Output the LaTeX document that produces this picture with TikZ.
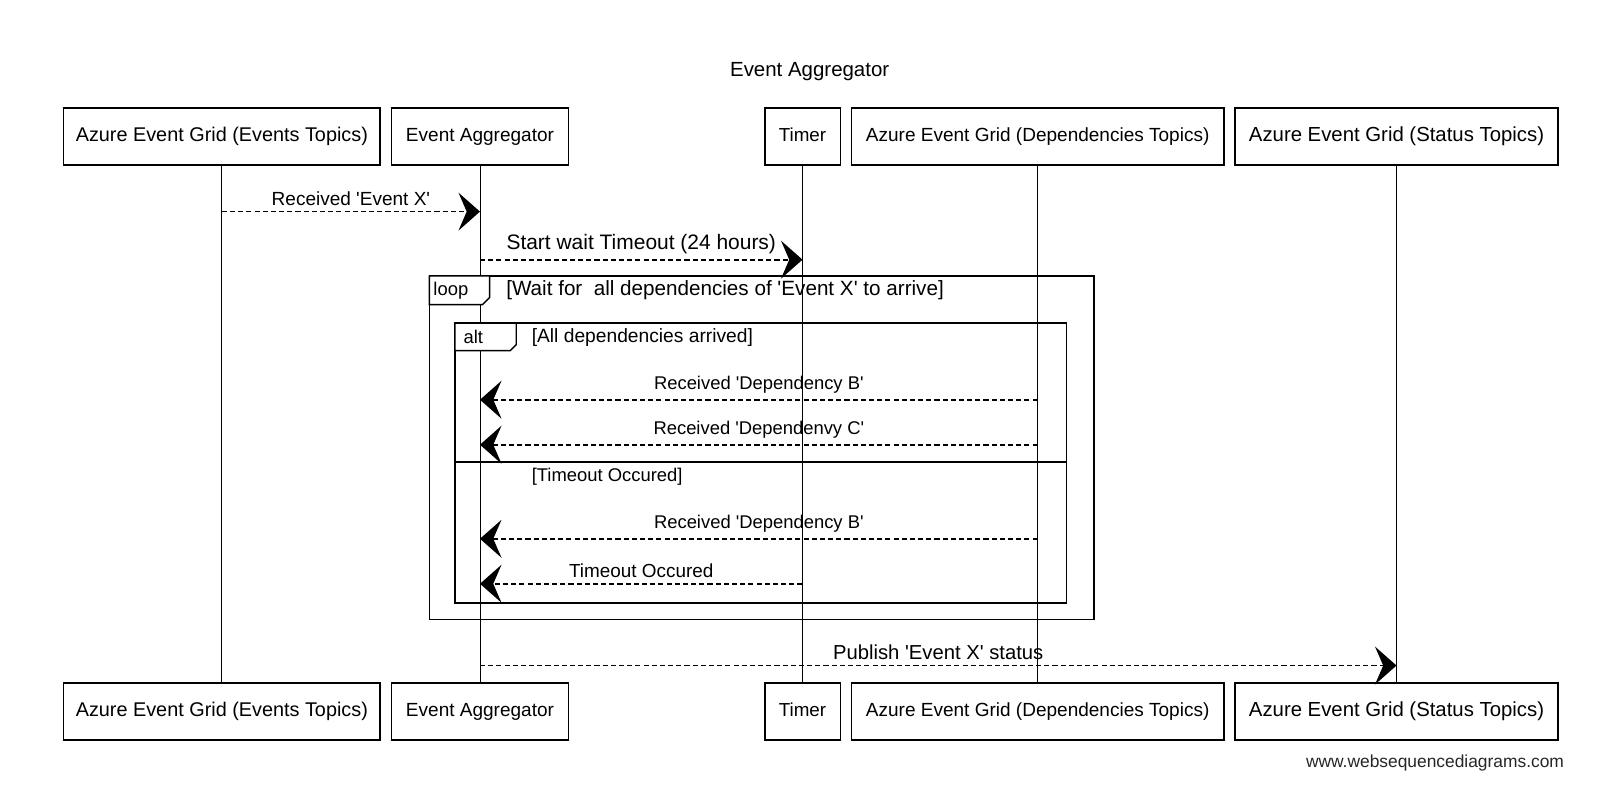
\documentclass[tikz,border=0pt]{standalone}
\usepackage{fontspec}
\setmainfont{Liberation Sans}
\usetikzlibrary{arrows.meta}
\newcommand{\apos}{\textquotesingle}
\begin{document}
\begin{tikzpicture}[x=1pt,y=-1pt,
  fs/.style={font=\fontsize{#1}{#1}\selectfont},
  part/.style={draw, line width=1.6pt, minimum height=56pt, inner sep=0pt, text height=13pt, text depth=4pt},
  life/.style={line width=0.8pt},
  msg/.style={line width=1.7pt, dash pattern=on 5pt off 3pt, -{Stealth[length=21pt, width=37pt, inset=8pt]}},
  lab/.style={inner sep=2pt, above=3pt},
  frame/.style={line width=1.4pt},
  cond/.style={inner sep=0pt, anchor=west}
]
\useasboundingbox (0,0) rectangle (1568,787);
\fill[white] (0,0) rectangle (1568,787);

% title
\node[fs=20] (title) at (792,70) {Event Aggregator};

% participants top
\node[part, fs=19.4, minimum width=310pt] (t1) at (217,133.5) {Azure Event Grid (Events Topics)};
\node[part, fs=18.6, minimum width=173pt] (t2) at (469.5,133.5) {Event Aggregator};
\node[part, fs=18.4, minimum width=74pt]  (t3) at (785,133.5) {Timer};
\node[part, fs=18.6, minimum width=364pt] (t4) at (1015,133.5) {Azure Event Grid (Dependencies Topics)};
\node[part, fs=19.9, minimum width=316pt] (t5) at (1366,133.5) {Azure Event Grid (Status Topics)};

% participants bottom
\node[part, fs=19.4, minimum width=310pt] (b1) at (217,696) {Azure Event Grid (Events Topics)};
\node[part, fs=18.6, minimum width=173pt] (b2) at (469.5,696) {Event Aggregator};
\node[part, fs=18.4, minimum width=74pt]  (b3) at (785,696) {Timer};
\node[part, fs=18.6, minimum width=364pt] (b4) at (1015,696) {Azure Event Grid (Dependencies Topics)};
\node[part, fs=19.9, minimum width=316pt] (b5) at (1366,696) {Azure Event Grid (Status Topics)};

% lifelines
\foreach \i in {1,...,5} {\draw[life] (t\i.south) -- (b\i.north);}

% loop frame
\draw[frame] (420,270) rectangle (1070,606);
\draw[frame, fill=white] (420,270) -- (479,270) -- (479,291) -- (472,298) -- (420,298) -- cycle;
\node[fs=18, inner sep=0pt] (looplab) at (441,284) {loop};
\node[cond, fs=20.2] (loopcond) at (495,284) {[Wait for\ \ all dependencies of \apos Event X\apos\ to arrive]};

% alt frame
\draw[frame] (445,316) rectangle (1043,590);
\draw[frame, fill=white] (445,316) -- (505,316) -- (505,337) -- (499,343) -- (445,343) -- cycle;
\node[fs=18, inner sep=0pt] (altlab) at (463,330) {alt};
\node[cond, fs=18.8] (altcond1) at (520,330) {[All dependencies arrived]};
\draw[frame] (445,452) -- (1043,452);
\node[cond, fs=18] (altcond2) at (520,466) {[Timeout Occured]};

% messages
\coordinate (m1a) at (t1.south |- 0,207);
\coordinate (m1b) at (t2.south |- 0,207);
\draw[msg] (m1a) -- node[lab, fs=18.6] {Received \apos Event X\apos} (m1b);

\coordinate (m2a) at (t2.south |- 0,254);
\coordinate (m2b) at (t3.south |- 0,254);
\draw[msg] (m2a) -- node[lab, fs=20.5] {Start wait Timeout (24 hours)} (m2b);

\coordinate (m3a) at (t4.south |- 0,391);
\coordinate (m3b) at (t2.south |- 0,391);
\draw[msg] (m3a) -- node[lab, fs=18] {Received \apos Dependency B\apos} (m3b);

\coordinate (m4a) at (t4.south |- 0,435);
\coordinate (m4b) at (t2.south |- 0,435);
\draw[msg] (m4a) -- node[lab, fs=18] {Received \apos Dependenvy C\apos} (m4b);

\coordinate (m5a) at (t4.south |- 0,527);
\coordinate (m5b) at (t2.south |- 0,527);
\draw[msg] (m5a) -- node[lab, fs=18] {Received \apos Dependency B\apos} (m5b);

\coordinate (m6a) at (t3.south |- 0,571);
\coordinate (m6b) at (t2.south |- 0,571);
\draw[msg] (m6a) -- node[lab, fs=18.5] {Timeout Occured} (m6b);

\coordinate (m7a) at (t2.south |- 0,651);
\coordinate (m7b) at (t5.south |- 0,651);
\draw[msg] (m7a) -- node[lab, fs=19.8] {Publish \apos Event X\apos\ status} (m7b);

% watermark
\node[anchor=east, fs=17, text=black!85, inner sep=0pt] (wm) at (1530,746) {www.websequencediagrams.com};
\end{tikzpicture}
\end{document}
